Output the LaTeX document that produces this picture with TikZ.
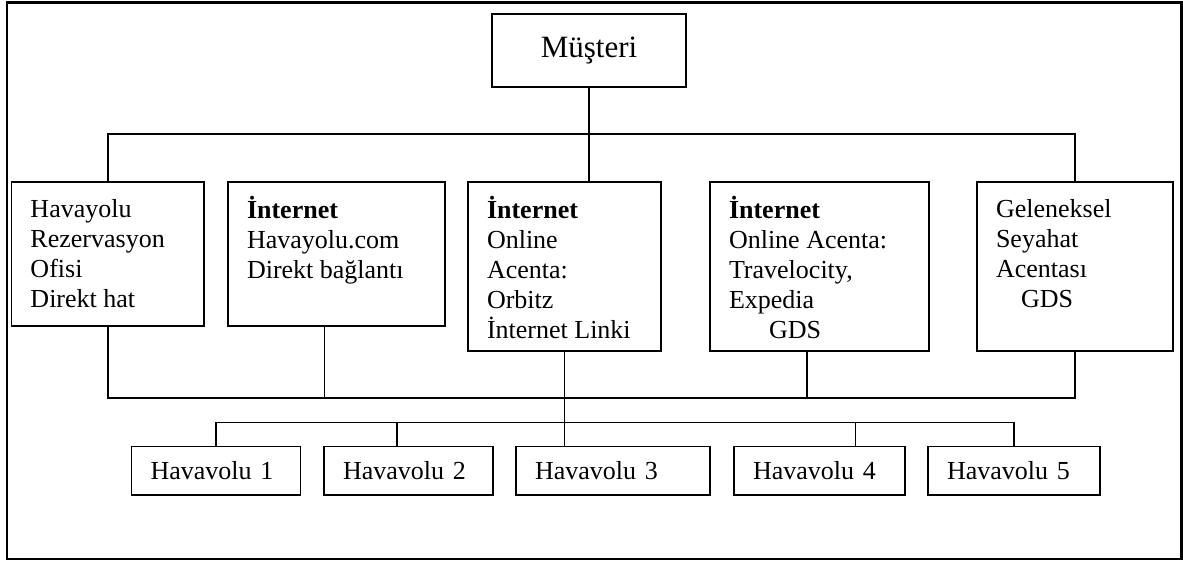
\documentclass[tikz,border=0pt]{standalone}
\usepackage{fontspec}
\setmainfont{Liberation Serif}
\usetikzlibrary{positioning,calc}

\newcommand{\celltext}[3]{\parbox[t][#2][t]{#1}{\vspace*{14pt}\strut#3}}

\begin{document}
\begin{tikzpicture}[
  x=1pt, y=-1pt,
  custbox/.style={draw, line width=1.5pt, outer sep=0pt, minimum width=194pt,
                  minimum height=73pt, font=\fontsize{31}{36}\selectfont},
  box/.style={draw, line width=1.5pt, outer sep=0pt, inner xsep=19pt,
              inner ysep=0pt, font=\fontsize{26}{30}\selectfont},
  leaf/.style={draw, line width=1.5pt, outer sep=0pt, inner xsep=19pt,
               inner ysep=0pt, minimum height=48.5pt, align=left,
               font=\fontsize{26}{30}\selectfont},
  link/.style={line width=1.5pt},
]
\useasboundingbox (0,0) rectangle (1183,563);
\draw[line width=2.5pt] (7,2.5) rectangle (1181.5,559);

\node[custbox, anchor=north west] at (492,14)        (cust) {Müşteri};

\node[box, anchor=north west] at (11.5,182)          (m1)
  {\celltext{154.5pt}{144pt}{Havayolu\\Rezervasyon\\Ofisi\\Direkt hat}};
\node[box, below right=0pt and 24pt of m1.north east] (m2)
  {\celltext{179pt}{144pt}{\textbf{İnternet}\\Havayolu.com\\Direkt bağlantı}};
\node[box, below right=0pt and 23pt of m2.north east] (m3)
  {\celltext{155pt}{169pt}{\textbf{İnternet}\\Online\\Acenta:\\Orbitz\\İnternet Linki}};
\node[box, below right=0pt and 49pt of m3.north east] (m4)
  {\celltext{181pt}{169pt}{\textbf{İnternet}\\Online Acenta:\\Travelocity,\\Expedia\\\hspace*{40pt}GDS}};
\node[box, below right=0pt and 48pt of m4.north east] (m5)
  {\celltext{158pt}{169pt}{Geleneksel\\Seyahat\\Acentası\\\hspace*{25pt}GDS}};

\node[leaf, anchor=north west, text width=131pt] at (131.6,446.7) (h1) {Havavolu 1};
\node[leaf, right=23.5pt of h1, text width=131pt] (h2) {Havavolu 2};
\node[leaf, right=23pt of h2,   text width=156pt] (h3) {Havavolu 3};
\node[leaf, right=24pt of h3,   text width=133pt] (h4) {Havavolu 4};
\node[leaf, right=23pt of h4,   text width=134pt] (h5) {Havavolu 5};

\coordinate (tb) at (589,134);
\coordinate (lb) at (564.5,398);
\coordinate (hb) at (564.5,422.7);
\coordinate (m2d) at ($(m2.south west)!.445!(m2.south east)$);
\coordinate (m4d) at ($(m4.south west)!.443!(m4.south east)$);
\coordinate (h2d) at ($(h2.north west)!.43!(h2.north east)$);
\coordinate (h4d) at ($(h4.north west)!.71!(h4.north east)$);

\draw[link] (cust.south) -- (cust.south |- m3.north);
\draw[link] (m1.north) |- (tb) -| (m5.north);
\draw[link] (m1.south) |- (lb) -| (m5.south);
\draw[link] (m2d) -- (m2d |- lb);
\draw[link] (m4d) -- (m4d |- lb);
\draw[link] (m3.south) -- (m3.south |- h3.north);
\draw[link] (h1.north) |- (hb) -| (h5.north);
\draw[link] (h2d) -- (h2d |- hb);
\draw[link] (h4d) -- (h4d |- hb);
\end{tikzpicture}
\end{document}
